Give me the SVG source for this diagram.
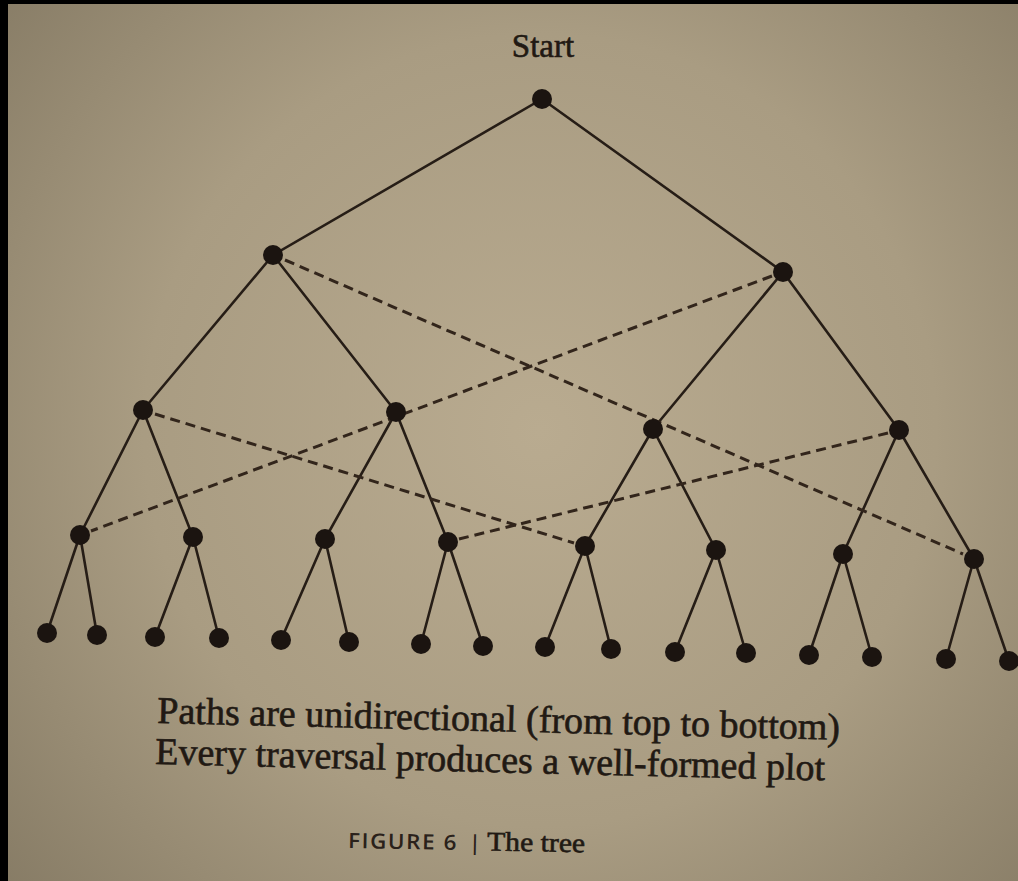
<svg xmlns="http://www.w3.org/2000/svg" width="1018" height="881" viewBox="0 0 1018 881">
  <defs>
    <radialGradient id="paper" cx="540" cy="430" r="720" gradientUnits="userSpaceOnUse">
      <stop offset="0" stop-color="#b9ab90"/>
      <stop offset="0.55" stop-color="#a99c82"/>
      <stop offset="1" stop-color="#857a64"/>
    </radialGradient>
    <style>
      .edge { stroke: #261d16; stroke-width: 2.6; fill: none; stroke-linecap: round; }
      .dash { stroke: #32251b; stroke-width: 3; fill: none; stroke-dasharray: 10 6; }
      .node circle { fill: #1b1410; }
      .serif { font-family: "Liberation Serif", "Times New Roman", serif; fill: #211913; stroke: #211913; stroke-width: 0.6; }
      .sans { font-family: "Open Sans", "Liberation Sans", sans-serif; font-weight: 600; fill: #2a211a; }
    </style>
  </defs>

  <rect x="0" y="0" width="1018" height="881" fill="url(#paper)"/>
  <rect x="0" y="0" width="8" height="881" fill="#000"/>
  <rect x="0" y="0" width="1018" height="4" fill="#000"/>

  <text class="serif" x="543" y="57" font-size="33" text-anchor="middle">Start</text>

  <g id="connectors">
    <!-- solid tree edges -->
    <line class="edge" x1="542" y1="99" x2="273" y2="255"/>
    <line class="edge" x1="542" y1="99" x2="783" y2="272"/>
    <line class="edge" x1="273" y1="255" x2="143" y2="410"/>
    <line class="edge" x1="273" y1="255" x2="396" y2="412"/>
    <line class="edge" x1="783" y1="272" x2="653" y2="429"/>
    <line class="edge" x1="783" y1="272" x2="899" y2="430"/>
    <line class="edge" x1="143" y1="410" x2="80" y2="535"/>
    <line class="edge" x1="143" y1="410" x2="193" y2="537"/>
    <line class="edge" x1="396" y1="412" x2="325" y2="539"/>
    <line class="edge" x1="396" y1="412" x2="448" y2="542"/>
    <line class="edge" x1="653" y1="429" x2="585" y2="546"/>
    <line class="edge" x1="653" y1="429" x2="716" y2="550"/>
    <line class="edge" x1="899" y1="430" x2="843" y2="554"/>
    <line class="edge" x1="899" y1="430" x2="974" y2="559"/>
    <line class="edge" x1="80" y1="535" x2="47" y2="633"/>
    <line class="edge" x1="80" y1="535" x2="97" y2="635"/>
    <line class="edge" x1="193" y1="537" x2="155" y2="637"/>
    <line class="edge" x1="193" y1="537" x2="219" y2="638"/>
    <line class="edge" x1="325" y1="539" x2="281" y2="640"/>
    <line class="edge" x1="325" y1="539" x2="349" y2="642"/>
    <line class="edge" x1="448" y1="542" x2="421" y2="644"/>
    <line class="edge" x1="448" y1="542" x2="483" y2="646"/>
    <line class="edge" x1="585" y1="546" x2="545" y2="647"/>
    <line class="edge" x1="585" y1="546" x2="611" y2="649"/>
    <line class="edge" x1="716" y1="550" x2="675" y2="652"/>
    <line class="edge" x1="716" y1="550" x2="746" y2="653"/>
    <line class="edge" x1="843" y1="554" x2="809" y2="655"/>
    <line class="edge" x1="843" y1="554" x2="872" y2="657"/>
    <line class="edge" x1="974" y1="559" x2="946" y2="659"/>
    <line class="edge" x1="974" y1="559" x2="1009" y2="661"/>
    <!-- dashed cross links -->
    <line class="dash" x1="285" y1="260" x2="963" y2="554"/>
    <line class="dash" x1="772" y1="276" x2="91" y2="531"/>
    <line class="dash" x1="155" y1="414" x2="574" y2="543"/>
    <line class="dash" x1="888" y1="433" x2="459" y2="539"/>
  </g>

  <g id="n0" class="node"><circle cx="542" cy="99" r="10"/></g>
  <g id="n1" class="node"><circle cx="273" cy="255" r="10"/></g>
  <g id="n2" class="node"><circle cx="783" cy="272" r="10"/></g>
  <g id="n3" class="node"><circle cx="143" cy="410" r="10"/></g>
  <g id="n4" class="node"><circle cx="396" cy="412" r="10"/></g>
  <g id="n5" class="node"><circle cx="653" cy="429" r="10"/></g>
  <g id="n6" class="node"><circle cx="899" cy="430" r="10"/></g>
  <g id="n7" class="node"><circle cx="80" cy="535" r="10"/></g>
  <g id="n8" class="node"><circle cx="193" cy="537" r="10"/></g>
  <g id="n9" class="node"><circle cx="325" cy="539" r="10"/></g>
  <g id="n10" class="node"><circle cx="448" cy="542" r="10"/></g>
  <g id="n11" class="node"><circle cx="585" cy="546" r="10"/></g>
  <g id="n12" class="node"><circle cx="716" cy="550" r="10"/></g>
  <g id="n13" class="node"><circle cx="843" cy="554" r="10"/></g>
  <g id="n14" class="node"><circle cx="974" cy="559" r="10"/></g>
  <g id="n15" class="node"><circle cx="47" cy="633" r="10"/></g>
  <g id="n16" class="node"><circle cx="97" cy="635" r="10"/></g>
  <g id="n17" class="node"><circle cx="155" cy="637" r="10"/></g>
  <g id="n18" class="node"><circle cx="219" cy="638" r="10"/></g>
  <g id="n19" class="node"><circle cx="281" cy="640" r="10"/></g>
  <g id="n20" class="node"><circle cx="349" cy="642" r="10"/></g>
  <g id="n21" class="node"><circle cx="421" cy="644" r="10"/></g>
  <g id="n22" class="node"><circle cx="483" cy="646" r="10"/></g>
  <g id="n23" class="node"><circle cx="545" cy="647" r="10"/></g>
  <g id="n24" class="node"><circle cx="611" cy="649" r="10"/></g>
  <g id="n25" class="node"><circle cx="675" cy="652" r="10"/></g>
  <g id="n26" class="node"><circle cx="746" cy="653" r="10"/></g>
  <g id="n27" class="node"><circle cx="809" cy="655" r="10"/></g>
  <g id="n28" class="node"><circle cx="872" cy="657" r="10"/></g>
  <g id="n29" class="node"><circle cx="946" cy="659" r="10"/></g>
  <g id="n30" class="node"><circle cx="1009" cy="661" r="10"/></g>

  <text class="serif" x="157" y="723" font-size="38" textLength="683" lengthAdjust="spacingAndGlyphs" transform="rotate(1.4 157 723)">Paths are unidirectional (from top to bottom)</text>
  <text class="serif" x="155" y="764" font-size="38" textLength="670" lengthAdjust="spacingAndGlyphs" transform="rotate(1.4 155 764)">Every traversal produces a well-formed plot</text>

  <g transform="rotate(1 348 848)">
    <text class="sans" x="348" y="848" font-size="21" letter-spacing="1.5" textLength="110" lengthAdjust="spacingAndGlyphs">FIGURE 6</text>
    <text class="sans" x="469" y="848" font-size="21">|</text>
    <text class="serif" x="487" y="848" font-size="27" textLength="98" lengthAdjust="spacingAndGlyphs" stroke-width="0.3">The tree</text>
  </g>
</svg>
